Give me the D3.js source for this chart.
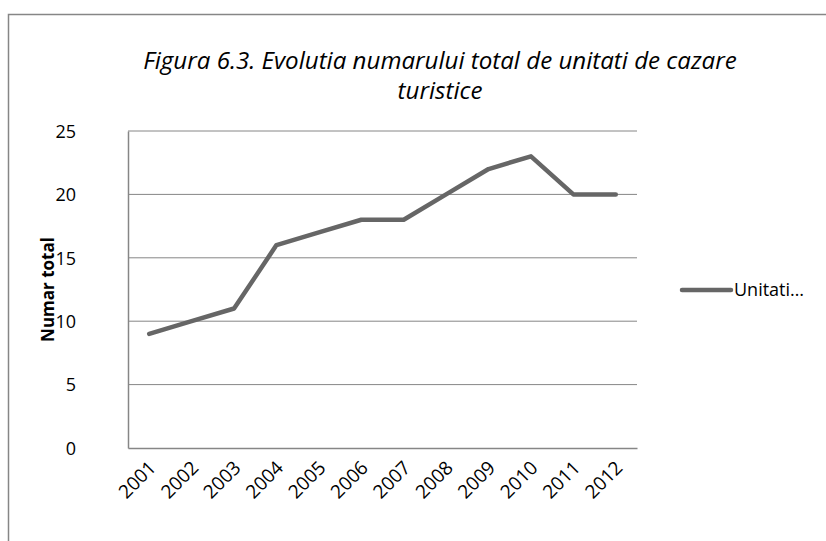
<!DOCTYPE html>
<html>
<head>
<meta charset="utf-8">
<script src="https://cdn.jsdelivr.net/npm/d3@7"></script>
<style>
  body { margin: 0; background: #fff; }
  text { font-family: "Open Sans", "Noto Sans", sans-serif; fill: #000; }
</style>
</head>
<body>
<script>
/* DATA */
const years = ["2001", "2002", "2003", "2004", "2005", "2006", "2007", "2008", "2009", "2010", "2011", "2012"];
const unitati = [9, 10, 11, 16, 17, 18, 18, 20, 22, 23, 20, 20];
const yTicks = [0, 5, 10, 15, 20, 25];
const titleLines = ["Figura 6.3. Evolutia numarului total de unitati de cazare", "turistice"];
const seriesName = "Unitati…";

/* CONSTANTS */
const width = 826;
const height = 541;
const plot = { left: 128, right: 637, top: 131, bottom: 448 };

const svg = d3.select("body").append("svg")
    .attr("width", width)
    .attr("height", height);

// chart frame (cropped on right and bottom)
svg.append("rect")
    .attr("x", 8.5)
    .attr("y", 14.5)
    .attr("width", 900)
    .attr("height", 600)
    .attr("fill", "none")
    .attr("stroke", "#868686")
    .attr("stroke-width", 1.5);

//X-SCALE
const x = d3.scaleBand()
    .domain(years)
    .range([plot.left, plot.right]);

//Y-SCALE
const y = d3.scaleLinear()
    .domain([0, 25])
    .range([plot.bottom, plot.top]);

// gridlines
svg.append("g")
    .selectAll("line")
    .data(yTicks.filter(d => d > 0))
    .enter()
    .append("line")
    .attr("x1", plot.left)
    .attr("x2", plot.right)
    .attr("y1", d => y(d))
    .attr("y2", d => y(d))
    .attr("stroke", "#868686")
    .attr("stroke-width", 1);

//Y-AXIS
const yAxis = svg.append("g")
    .attr("transform", "translate(" + plot.left + ",0)")
    .call(d3.axisLeft(y).tickValues(yTicks).tickSize(0).tickPadding(0));
yAxis.attr("font-size", 18).attr("font-family", null);
yAxis.select(".domain").attr("stroke", "#868686").attr("stroke-width", 1.5);
yAxis.selectAll("text")
    .attr("x", -52)
    .attr("dy", "0.35em")
    .attr("text-anchor", "end")
    .attr("fill", "#000");

//X-AXIS
const xAxis = svg.append("g")
    .attr("transform", "translate(0," + plot.bottom + ")")
    .call(d3.axisBottom(x).tickSize(0).tickPadding(0));
xAxis.attr("font-size", 19).attr("font-family", null);
xAxis.select(".domain").attr("stroke", "#868686").attr("stroke-width", 1.5);
xAxis.selectAll("text")
    .attr("y", 0)
    .attr("dy", 0)
    .attr("text-anchor", "end")
    .attr("transform", "translate(8,21) rotate(-45)")
    .attr("fill", "#000");

// y axis title
svg.append("text")
    .attr("transform", "translate(54," + (plot.top + plot.bottom) / 2 + ") rotate(-90)")
    .attr("text-anchor", "middle")
    .attr("font-weight", "bold")
    .attr("font-size", "17px")
    .text("Numar total");

// title
svg.selectAll(".title")
    .data(titleLines)
    .enter()
    .append("text")
    .classed("title", true)
    .attr("x", 440)
    .attr("y", (d, i) => 69 + i * 30)
    .attr("text-anchor", "middle")
    .attr("font-style", "italic")
    .attr("font-size", "19px")
    .text(d => d);

// shrink title to fit its width in the reference
const t0 = svg.select(".title").node();
const scale = 594 / t0.getComputedTextLength();
svg.selectAll(".title").attr("font-size", (19 * scale) + "px");

//LINE
const line = d3.line()
    .x((d, i) => x(years[i]) + x.bandwidth() / 2)
    .y(d => y(d));

svg.append("path")
    .datum(unitati)
    .attr("d", line)
    .attr("fill", "none")
    .attr("stroke", "#666666")
    .attr("stroke-width", 4.5)
    .attr("stroke-linejoin", "round")
    .attr("stroke-linecap", "round");

//LEGEND
svg.append("line")
    .attr("x1", 682)
    .attr("x2", 731)
    .attr("y1", 290)
    .attr("y2", 290)
    .attr("stroke", "#666666")
    .attr("stroke-width", 4.5)
    .attr("stroke-linecap", "round");

svg.append("text")
    .attr("x", 734)
    .attr("y", 290)
    .attr("dy", "0.35em")
    .attr("font-size", "18px")
    .text(seriesName);
</script>
</body>
</html>
